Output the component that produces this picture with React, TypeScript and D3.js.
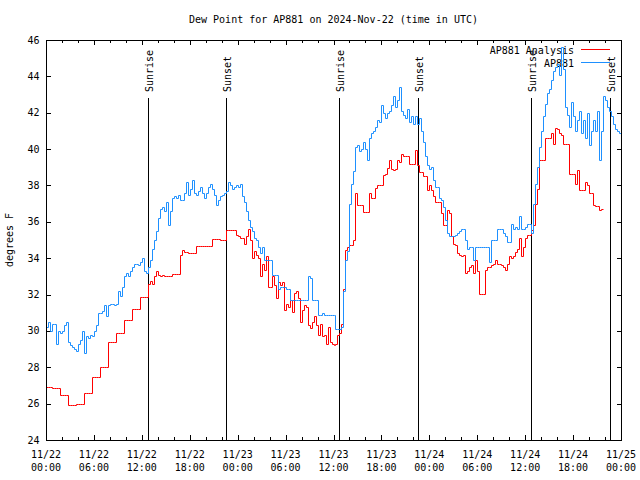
import React from "react";
import * as d3 from "d3";

const TITLE = "Dew Point for AP881 on 2024-Nov-22 (time in UTC)";
const Y_LABEL = "degrees F";
const START_MS = Date.UTC(2024, 10, 22, 0, 0);
const END_MS = Date.UTC(2024, 10, 25, 0, 0);
const STEP_MINUTES = 15;

const yTicks = [24, 26, 28, 30, 32, 34, 36, 38, 40, 42, 44, 46];

// AP881 observations, one value every 15 minutes from 11/22 00:00 UTC
const obsValues = [
  30.2, 30.5, 30.0, 30.4,
  30.4, 29.3, 30.0, 29.9,
  30.0, 30.3, 30.5, 29.4,
  29.2, 29.1, 29.0, 28.9,
  29.3, 29.5, 30.0, 28.8,
  29.7, 29.6, 29.8, 29.7,
  30.0, 30.3, 31.0, 31.0,
  31.1, 31.4, 30.8, 31.4,
  31.5, 31.5, 31.4, 31.5,
  32.2, 31.9, 32.4, 33.0,
  33.2, 33.0, 33.3, 33.5,
  33.7, 33.7, 33.6, 33.8,
  34.0, 33.3, 33.2, 33.5,
  33.9, 34.5, 35.0, 35.5,
  36.2, 36.7, 36.8, 36.6,
  37.1, 35.8, 36.6, 37.3,
  37.4, 37.3, 37.5, 37.2,
  37.2, 37.6, 38.2, 37.5,
  37.8, 38.3, 37.6, 37.5,
  37.7, 37.9, 37.6, 37.3,
  37.6, 37.9, 38.1, 37.8,
  37.5, 36.9, 37.2, 37.4,
  37.5, 37.6, 37.7, 38.2,
  38.0, 37.8, 37.9, 38.0,
  37.9, 38.1, 37.4, 37.1,
  36.6, 36.1, 35.7, 35.5,
  35.1, 35.0, 34.6, 34.3,
  34.6, 33.9, 33.9, 33.9,
  33.9, 33.1, 33.1, 33.1,
  32.3, 32.4, 32.4, 32.4,
  32.3, 32.3, 31.7, 31.7,
  31.7, 31.7, 31.7, 31.7,
  31.7, 31.7, 31.7, 33.0,
  32.9, 31.7, 31.7, 31.7,
  30.9, 30.9, 31.0, 30.9,
  30.9, 30.9, 30.9, 30.9,
  30.9, 30.1, 30.1, 30.1,
  30.2, 32.2, 33.9, 34.4,
  37.0, 38.1, 38.8, 40.1,
  40.2, 39.9, 40.0, 40.4,
  40.0, 39.4, 40.6, 40.9,
  41.0, 41.2, 41.6, 41.5,
  42.4, 42.0, 41.7, 42.0,
  42.1, 42.4, 42.9, 42.3,
  42.7, 43.4, 42.1, 41.9,
  41.7, 42.2, 41.5, 41.8,
  41.4, 41.8, 41.4, 41.7,
  41.0, 40.4, 39.6, 39.1,
  38.9, 39.0, 38.3, 37.9,
  37.9, 37.3, 37.2, 36.8,
  36.1, 35.4, 35.2, 35.2,
  35.2, 35.3, 35.4, 35.5,
  35.6, 35.6, 35.0, 34.5,
  34.6, 34.6, 33.9, 34.6,
  34.6, 34.6, 34.6, 34.6,
  34.6, 34.6, 33.8, 35.0,
  35.0, 35.0, 35.6, 35.6,
  35.6, 35.4, 35.2, 34.9,
  34.9, 35.9, 35.6, 35.7,
  35.6, 36.3, 35.6, 35.6,
  35.7, 35.9, 35.9, 35.4,
  37.0, 38.1, 39.0, 40.1,
  41.0, 41.8, 42.5, 43.1,
  43.3, 43.8, 44.3, 44.5,
  44.7, 44.1, 45.6, 44.4,
  42.3, 41.9, 41.2, 42.6,
  41.8, 41.0, 41.6, 42.1,
  40.9, 41.6, 40.6, 42.0,
  40.2, 41.0, 41.6, 41.0,
  42.1, 39.4, 41.0, 42.9,
  42.7, 42.3, 42.1, 41.8,
  41.4, 41.1, 41.0, 40.9,
];
const obsEndHour = 72;

// AP881 Analysis, one value every 15 minutes from 11/22 00:00 UTC
const analysisValues = [
  26.9, 26.9, 26.9, 26.85,
  26.85, 26.85, 26.85, 26.5,
  26.5, 26.5, 26.5, 25.9,
  25.9, 25.9, 25.9, 26.0,
  26.0, 26.0, 26.0, 26.6,
  26.6, 26.6, 26.6, 27.45,
  27.45, 27.45, 27.45, 28.0,
  28.0, 28.0, 28.0, 29.4,
  29.4, 29.4, 29.4, 29.9,
  29.9, 29.9, 29.9, 30.6,
  30.6, 30.6, 30.6, 31.2,
  31.2, 31.2, 31.2, 31.85,
  31.85, 31.85, 31.85, 32.6,
  32.75, 32.6, 33.0, 33.3,
  33.1, 33.0, 33.1, 33.0,
  33.0, 33.0, 33.0, 33.15,
  33.15, 33.15, 33.15, 34.2,
  34.45, 34.35, 34.35, 34.3,
  34.3, 34.3, 34.3, 34.65,
  34.65, 34.65, 34.65, 34.65,
  34.65, 34.65, 34.65, 35.05,
  35.05, 35.05, 35.05, 35.0,
  35.0, 35.0, 35.55, 35.55,
  35.55, 35.55, 35.55, 35.3,
  35.2, 35.1, 35.1, 34.8,
  35.2, 35.6, 35.0, 34.0,
  34.4, 34.2, 34.0, 33.0,
  33.7, 33.35, 34.1, 32.4,
  32.4, 33.0, 32.5, 31.8,
  32.7, 32.5, 32.7, 31.15,
  31.5, 31.3, 31.7, 31.05,
  32.1, 32.2, 31.8, 30.5,
  31.15, 31.4, 31.3, 30.3,
  30.15, 30.5, 30.8, 30.3,
  29.8, 30.4, 29.7, 29.8,
  29.3, 30.2, 29.4, 29.3,
  29.2, 29.3, 29.8, 29.9,
  30.4, 32.3, 34.45, 34.6,
  34.7, 34.7, 35.0, 37.6,
  36.9, 36.9, 36.9, 36.55,
  36.55, 36.55, 37.6, 37.3,
  37.3, 37.85, 38.0, 38.0,
  38.0, 38.6, 38.65, 38.95,
  39.4, 38.9, 38.85, 38.9,
  39.4, 39.3, 39.75, 39.6,
  39.6, 39.6, 39.2, 39.2,
  39.2, 39.95, 39.1, 38.75,
  38.75, 38.5, 38.5, 37.75,
  38.0, 37.75, 37.4, 37.1,
  37.1, 37.1, 36.5, 35.8,
  35.8, 36.65, 36.5, 35.2,
  34.8, 34.75, 34.3, 34.2,
  34.1, 34.2, 33.2, 33.3,
  33.5, 33.6, 33.2, 33.9,
  33.3, 32.05, 32.05, 32.05,
  33.35, 33.5, 33.5, 33.6,
  33.7, 33.9, 33.7, 33.7,
  33.6, 33.5, 33.35, 33.7,
  34.1, 34.0, 34.1, 34.35,
  34.5, 35.1, 34.1, 34.6,
  35.1, 35.3, 35.3, 35.55,
  35.8, 37.0, 37.8, 39.4,
  39.4, 39.4, 40.6, 40.6,
  40.6, 40.9, 40.3, 41.15,
  41.1, 40.9, 40.8, 40.3,
  40.3, 40.3, 38.65, 38.65,
  38.65, 38.1, 38.85, 37.75,
  37.75, 37.75, 38.2, 38.0,
  37.6, 37.6, 36.9, 36.85,
  36.85, 36.65, 36.7,
];
const analysisEndHour = 69.7;

const sunriseHours = [12.8, 36.74, 60.77];
const sunsetHours = [22.54, 46.6, 70.65];

const seriesNames = ["AP881 Analysis", "AP881"];
const seriesColors = ["#ff0000", "#1e90ff"];

const W = 640;
const H = 480;
const PL = 46;
const PR = 621;
const PT = 40;
const PB = 440;
const FONT = "'DejaVu Sans Mono', 'Liberation Mono', monospace";

type Pt = [number, number];

function toSeries(values: number[], endHour: number): Pt[] {
  const pts: Pt[] = values.map((v, i) => [START_MS + i * STEP_MINUTES * 60000, v]);
  pts.push([START_MS + endHour * 3600000, values[values.length - 1]]);
  return pts;
}

// split into overlapping chunks so each path stays short
function chunks(pts: Pt[], size: number): Pt[][] {
  const out: Pt[][] = [];
  for (let i = 0; i < pts.length - 1; i += size) {
    out.push(pts.slice(i, Math.min(pts.length, i + size + 1)));
  }
  return out;
}

const snap = (v: number) => Math.round(v) + 0.5;

export default function App() {
  const x = d3.scaleUtc().domain([new Date(START_MS), new Date(END_MS)]).range([PL, PR]);
  const y = d3.scaleLinear().domain([24, 46]).range([PB, PT]);

  const line = d3
    .line<Pt>()
    .x((d) => snap(x(new Date(d[0]))))
    .y((d) => snap(y(d[1])))
    .curve(d3.curveStepAfter);

  const obs = toSeries(obsValues, obsEndHour);
  const ana = toSeries(analysisValues, analysisEndHour);

  const majorTicks = x.ticks(d3.utcHour.every(6) as any);
  const minorTicks = x.ticks(d3.utcHour.every(2) as any).filter((t) => t.getUTCHours() % 6 !== 0);
  const fmtDate = d3.utcFormat("%m/%d");
  const fmtTime = d3.utcFormat("%H:%M");

  const hourToDate = (h: number) => new Date(START_MS + h * 3600000);
  const sunEvents = [
    ...sunriseHours.map((h) => ({ h, label: "Sunrise" })),
    ...sunsetHours.map((h) => ({ h, label: "Sunset" })),
  ];

  return (
    <svg
      width={W}
      height={H}
      style={{ position: "absolute", left: 0, top: 0, background: "#fff" }}
      fontFamily={FONT}
      fontSize={10}
    >
      <rect x={0} y={0} width={W} height={H} fill="#fff" />
      <text x={(PL + PR) / 2} y={23} textAnchor="middle" fill="#000">
        {TITLE}
      </text>
      <text transform={`translate(13,${(PT + PB) / 2}) rotate(-90)`} textAnchor="middle" fill="#000">
        {Y_LABEL}
      </text>

      {/* ticks */}
      <g stroke="#000" strokeWidth={1}>
        {yTicks.map((t) => (
          <g key={"y" + t}>
            <line x1={PL} x2={PL + 5} y1={snap(y(t))} y2={snap(y(t))} />
            <line x1={PR - 4} x2={PR + 1} y1={snap(y(t))} y2={snap(y(t))} />
          </g>
        ))}
        {majorTicks.map((t) => (
          <g key={"xm" + t.getTime()}>
            <line x1={snap(x(t))} x2={snap(x(t))} y1={PB} y2={PB - 5} />
            <line x1={snap(x(t))} x2={snap(x(t))} y1={PT} y2={PT + 5} />
          </g>
        ))}
        {minorTicks.map((t) => (
          <g key={"xn" + t.getTime()}>
            <line x1={snap(x(t))} x2={snap(x(t))} y1={PB} y2={PB - 3} />
            <line x1={snap(x(t))} x2={snap(x(t))} y1={PT} y2={PT + 3} />
          </g>
        ))}
      </g>
      {yTicks.map((t) => (
        <text key={"yl" + t} x={39.5} y={y(t) + 3.5} textAnchor="end" fill="#000">
          {t}
        </text>
      ))}
      {majorTicks.map((t) => (
        <text key={"xl" + t.getTime()} x={x(t)} y={458} textAnchor="middle" fill="#000">
          <tspan x={x(t)}>{fmtDate(t)}</tspan>
          <tspan x={x(t)} y={471}>
            {fmtTime(t)}
          </tspan>
        </text>
      ))}

      {/* sun events */}
      {sunEvents.map((e, i) => {
        const sx = snap(x(hourToDate(e.h)));
        return <line key={"sun" + i} x1={sx} x2={sx} y1={PB} y2={98} stroke="#000" strokeWidth={1} />;
      })}
      {sunEvents.map((e, i) => {
        const sx = Math.round(x(hourToDate(e.h)));
        return (
          <text key={"sunl" + i} transform={`translate(${sx + 4.5},92) rotate(-90)`} textAnchor="start" fill="#000">
            {e.label}
          </text>
        );
      })}

      {/* legend */}
      {seriesNames.map((n, i) => (
        <g key={"lg" + i}>
          <text x={574} y={54 + i * 13} textAnchor="end" fill="#000">
            {n}
          </text>
          <line x1={581} x2={610} y1={49.5 + i * 13} y2={49.5 + i * 13} stroke={seriesColors[i]} strokeWidth={1} />
        </g>
      ))}

      {/* data */}
      {chunks(ana, 24).map((c, i) => (
        <path key={"a" + i} d={line(c) || ""} fill="none" stroke={seriesColors[0]} strokeWidth={1} />
      ))}
      {chunks(obs, 24).map((c, i) => (
        <path key={"o" + i} d={line(c) || ""} fill="none" stroke={seriesColors[1]} strokeWidth={1} />
      ))}

      {/* border */}
      <rect x={PL + 0.5} y={PT + 0.5} width={PR - PL} height={PB - PT} fill="none" stroke="#000" strokeWidth={1} />
    </svg>
  );
}
